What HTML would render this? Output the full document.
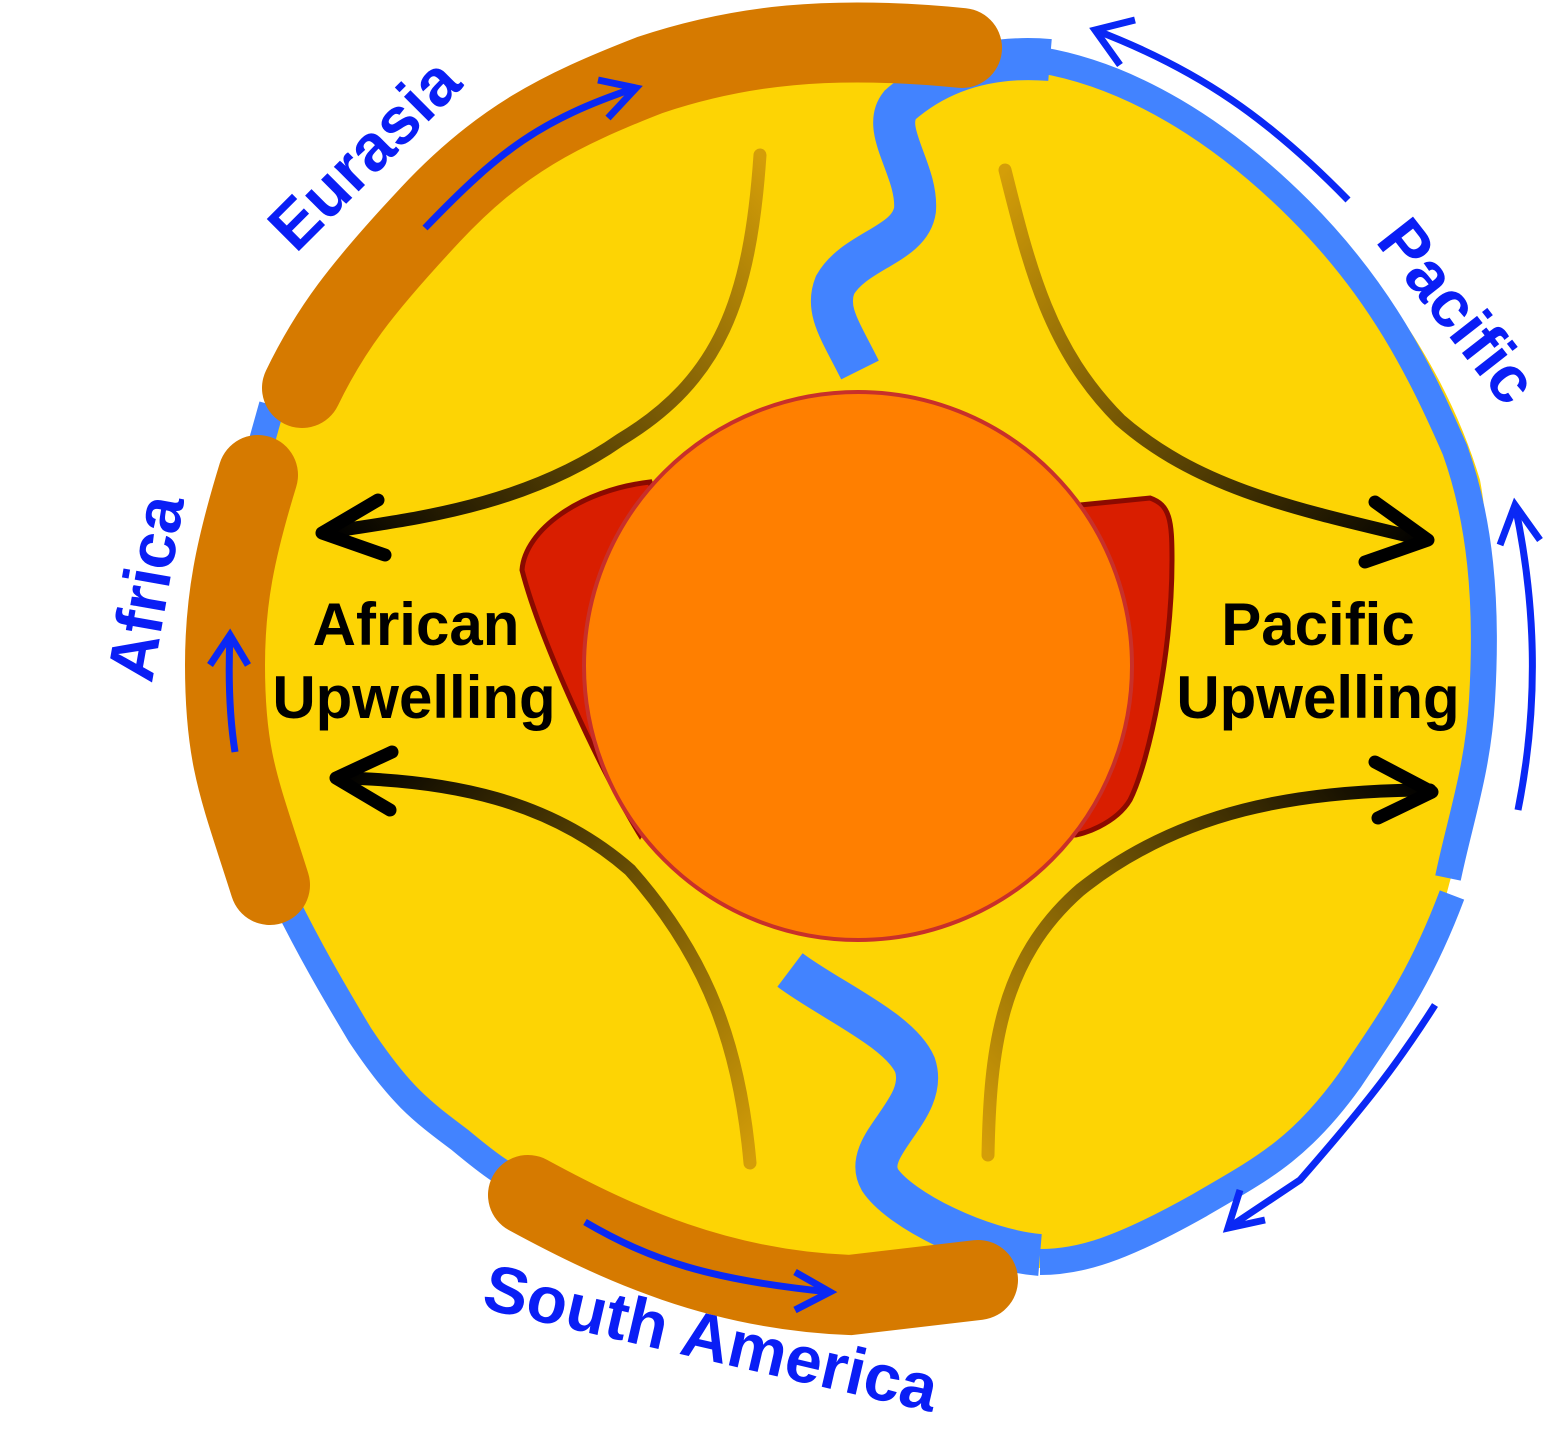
<!DOCTYPE html>
<html><head><meta charset="utf-8"><style>html,body{margin:0;padding:0;background:#fff}svg{display:block}</style></head>
<body>
<svg width="1552" height="1438" viewBox="0 0 1552 1438" xmlns="http://www.w3.org/2000/svg">
<defs>
<linearGradient id="g1" gradientUnits="userSpaceOnUse" x1="760" y1="155" x2="330" y2="532"><stop offset="0" stop-color="#D49E08"/><stop offset="1" stop-color="#000"/></linearGradient>
<linearGradient id="g2" gradientUnits="userSpaceOnUse" x1="750" y1="1163" x2="340" y2="778"><stop offset="0" stop-color="#D49E08"/><stop offset="1" stop-color="#000"/></linearGradient>
<linearGradient id="g3" gradientUnits="userSpaceOnUse" x1="1005" y1="170" x2="1425" y2="540"><stop offset="0" stop-color="#D49E08"/><stop offset="1" stop-color="#000"/></linearGradient>
<linearGradient id="g4" gradientUnits="userSpaceOnUse" x1="988" y1="1155" x2="1430" y2="790"><stop offset="0" stop-color="#D49E08"/><stop offset="1" stop-color="#000"/></linearGradient>
</defs>
<rect width="1552" height="1438" fill="#fff"/>
<path d="M225 665 C225 560 240 500 265 430 C300 330 360 260 440 180 C560 70 720 30 880 35 L970 50 C1050 50 1150 90 1260 170 C1380 260 1450 380 1480 480 C1495 560 1490 700 1480 760 C1470 820 1455 860 1445 900 C1410 990 1380 1040 1320 1120 C1260 1190 1150 1250 1060 1265 C1000 1275 900 1280 800 1280 C680 1270 580 1220 500 1170 C420 1110 370 1070 310 960 C260 870 220 760 225 665 Z" fill="#FDD404"/>
<g fill="none" stroke="#4283FF" stroke-width="26">
<path d="M1448 878 C1460 820 1478 770 1482 700 C1488 600 1480 520 1455 450 C1420 370 1380 290 1300 210 C1220 130 1130 75 1040 60"/>
<path d="M1452 895 C1420 980 1390 1020 1350 1080 C1300 1150 1260 1170 1200 1205 C1120 1250 1080 1262 1040 1262"/>
<path d="M272 405 L258 455"/>
<path d="M285 900 C310 950 330 985 360 1035 C400 1095 420 1110 460 1140 C490 1165 510 1180 530 1185"/>
</g>
<g fill="none" stroke="#4283FF" stroke-width="42">
<path d="M860 370 C840 330 825 310 835 285 C855 250 910 245 915 210 C918 170 880 130 900 105 C940 70 990 55 1050 60"/>
<path d="M790 970 C830 1000 900 1030 915 1065 C930 1110 860 1145 880 1180 C900 1210 980 1250 1040 1255"/>
</g>
<g fill="none" stroke="#D67A00" stroke-width="80" stroke-linecap="round">
<path d="M302 388 C330 330 360 290 430 215 C500 140 560 110 650 75 C740 45 830 35 962 48"/>
<path d="M258 475 C235 550 225 600 225 665 C225 760 240 790 270 885"/>
<path d="M528 1195 C620 1245 720 1290 850 1295 L978 1280"/>
</g>
<path d="M650 482 C580 490 525 530 522 570 C540 640 600 770 640 835 L720 700 Z" fill="#D91E00" stroke="#8B0A00" stroke-width="5"/>
<path d="M1080 505 L1150 498 C1170 505 1172 520 1172 560 C1172 650 1150 760 1130 800 C1115 825 1080 835 1075 835 L1000 600 Z" fill="#D91E00" stroke="#8B0A00" stroke-width="5"/>
<circle cx="858" cy="666" r="274" fill="#FF7F00" stroke="#C8302A" stroke-width="4"/>
<g fill="none" stroke-width="13" stroke-linecap="round" stroke-linejoin="round">
<path d="M760 155 C750 300 720 380 620 440 C520 510 400 520 330 532" stroke="url(#g1)"/>
<path d="M378 500 L322 533 L385 555" stroke="#000"/>
<path d="M750 1163 C740 1050 710 960 630 870 C550 800 450 780 340 778" stroke="url(#g2)"/>
<path d="M392 752 L336 778 L390 810" stroke="#000"/>
<path d="M1005 170 C1030 270 1050 350 1120 420 C1200 490 1300 510 1425 540" stroke="url(#g3)"/>
<path d="M1375 502 L1428 540 L1365 562" stroke="#000"/>
<path d="M988 1155 C990 1050 1000 960 1080 890 C1180 810 1300 790 1430 790" stroke="url(#g4)"/>
<path d="M1375 762 L1432 792 L1378 818" stroke="#000"/>
</g>
<g fill="none" stroke="#0A28F5" stroke-width="7">
<path d="M425 228 C500 150 540 120 635 88"/><path d="M598 80 L636 88 L608 118"/>
<path d="M1348 200 C1270 120 1200 70 1095 30"/><path d="M1135 20 L1095 30 L1120 65"/>
<path d="M1518 810 C1540 700 1535 600 1515 505"/><path d="M1500 545 L1515 505 L1540 540"/>
<path d="M1435 1005 C1400 1060 1370 1100 1300 1180 L1228 1228"/><path d="M1240 1190 L1228 1228 L1265 1220"/>
<path d="M235 752 C230 720 228 680 230 635"/><path d="M210 665 L230 635 L248 665"/>
<path d="M585 1222 C650 1260 710 1280 830 1292"/><path d="M795 1272 L830 1292 L795 1310"/>
</g>
<g font-family="Liberation Sans, sans-serif" font-weight="bold" font-size="66" fill="#0A1EF5" text-anchor="middle">
<text transform="translate(380,170) rotate(-45)">Eurasia</text>
<text transform="translate(1440,325) rotate(52)">Pacific</text>
<text transform="translate(168,592) rotate(-80)">Africa</text>
<text transform="translate(706,1360) rotate(13)">South America</text>
</g>
<g font-family="Liberation Sans, sans-serif" font-weight="bold" font-size="60" fill="#000" text-anchor="middle">
<text x="416" y="645">African</text>
<text x="414" y="718">Upwelling</text>
<text x="1318" y="645">Pacific</text>
<text x="1318" y="718">Upwelling</text>
</g>
</svg>
</body></html>
